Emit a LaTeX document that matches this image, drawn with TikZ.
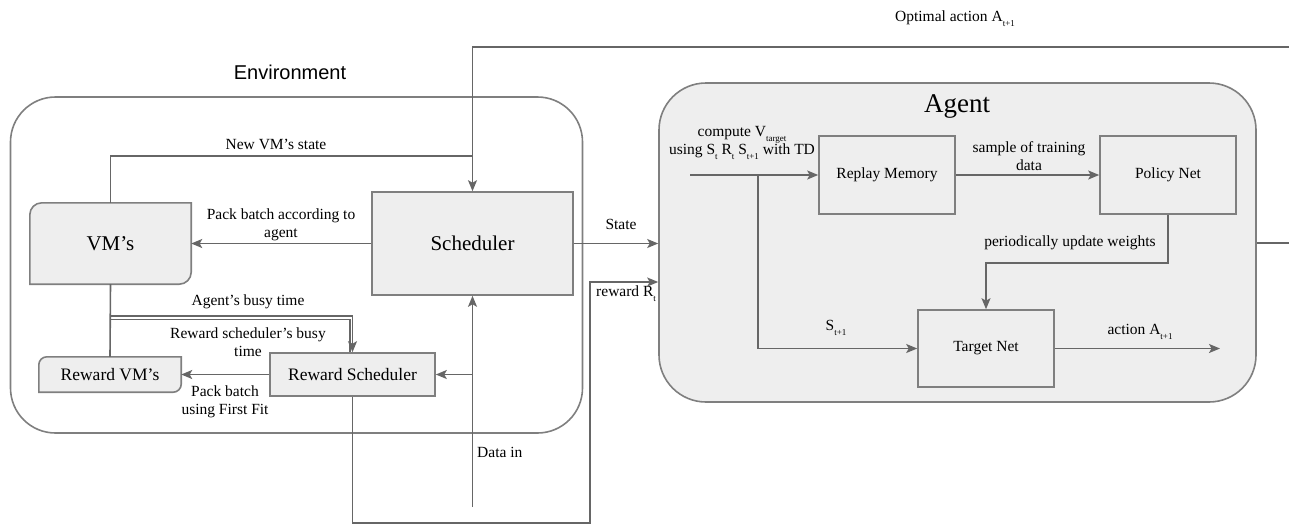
\documentclass[tikz,border=0pt]{standalone}
\usepackage{fontspec}
\setmainfont{Liberation Serif}
\newfontfamily\headsans{Liberation Sans}
\usetikzlibrary{arrows.meta,backgrounds}
\definecolor{wire}{HTML}{666666}
\definecolor{edgegray}{HTML}{7F7F7F}
\definecolor{panel}{HTML}{EEEEEE}
% lowered small index used in the labels (A_{t+1}, V_{target}, ...)
\newcommand{\lowsub}[1]{\raisebox{-5pt}{\fontsize{9}{9}\selectfont #1}}

\begin{document}
\begin{tikzpicture}[x=1pt,y=-1pt,
  wire/.style={draw=wire, line width=1.6pt},
  arr/.style={wire, -{Stealth[length=11pt,width=9pt,inset=2.5pt]}},
  block/.style={draw=edgegray, fill=panel, line width=1.6pt, inner sep=0pt, align=center},
  cardtext/.style={inner sep=0pt, align=center},
  cardline/.style={draw=edgegray, fill=panel, line width=1.6pt},
  lbl/.style={inner sep=0pt, align=center, font=\fontsize{15.5}{18.5}\selectfont},
  container/.style={draw=edgegray, line width=1.6pt, rounded corners=#1, inner sep=0pt},
]
\useasboundingbox (0,0) rectangle (1289,523);

% ---------- containers ----------
\node[container=45pt, minimum width=572pt, minimum height=336pt] (env) at (296.5,265) {};
\node[font=\headsans\fontsize{20}{24}\selectfont] (envtitle) at (290,72) {Environment};
\node[container=47pt, fill=panel, minimum width=597pt, minimum height=319pt] (agent) at (957.5,242.5) {};
\node[font=\fontsize{27}{30}\selectfont] (agenttitle) at (957,106) {Agent};

% ---------- environment blocks ----------
\node[block, minimum width=201pt, minimum height=103pt, font=\fontsize{21}{24}\selectfont] (sched) at (472.5,243.5) {Scheduler};
\node[cardtext, minimum width=161pt, minimum height=81pt, font=\fontsize{21}{24}\selectfont] (vm) at (110.5,243.5) {VM’s};
\node[cardtext, minimum width=142pt, minimum height=35pt, font=\fontsize{17.5}{20}\selectfont] (rvm) at (110,374.5) {Reward VM’s};
\node[block, minimum width=165pt, minimum height=43pt, font=\fontsize{17.5}{20}\selectfont] (rs) at (352.5,374.5) {Reward Scheduler};

% card outlines: rounded top-left and bottom-right corners only
\begin{scope}[on background layer]
  \draw[cardline] (vm.south west) -- ([yshift=-12pt]vm.north west)
    arc[start angle=180,end angle=90,radius=12pt] -- (vm.north east)
    -- ([yshift=12pt]vm.south east) arc[start angle=0,end angle=-90,radius=12pt] -- cycle;
  \draw[cardline] (rvm.south west) -- ([yshift=-8pt]rvm.north west)
    arc[start angle=180,end angle=90,radius=8pt] -- (rvm.north east)
    -- ([yshift=8pt]rvm.south east) arc[start angle=0,end angle=-90,radius=8pt] -- cycle;
\end{scope}

% ---------- agent blocks ----------
\node[block, minimum width=136pt, minimum height=78pt, font=\fontsize{15.5}{18}\selectfont] (rm) at (887,175) {Replay Memory};
\node[block, minimum width=136pt, minimum height=78pt, font=\fontsize{15.5}{18}\selectfont] (pn) at (1168,175) {Policy Net};
\node[block, minimum width=136pt, minimum height=77pt, font=\fontsize{15.5}{18}\selectfont] (tgt) at (986,348.5) {Target Net};

% ---------- free ends and bends ----------
\coordinate (loopR) at (1320,243);
\coordinate (loopT) at (1320,47);
\coordinate (stateJoin) at (472.5,156);
\coordinate (dataIn) at (472.5,507);
\coordinate (rewBottom) at (590,523);
\coordinate (rewUp) at (590,282);
\coordinate (tdIn) at (690,175);
\coordinate (tdSplit) at (758,175);
\coordinate (actOut) at (1220,348.5);

% ---------- connectors: environment ----------
\draw[arr] (agent.east |- loopR) -- (loopR) -- (loopT) -- (sched.north |- loopT) -- (sched.north);
\draw[wire] (vm.north) |- (stateJoin);
\draw[arr] (sched.west) -- (vm.east);
\draw[wire] (vm.south) -- (rvm.north);
\draw[arr] (vm.south |- 0,316) -| (rs.north);
\draw[wire] (vm.south |- 0,319.5) -| ([xshift=-2.5pt]rs.north);
\draw[arr] (rs.west) -- (rvm.east);
\draw[arr] (dataIn) -- (sched.south);
\draw[arr] (dataIn |- rs.east) -- (rs.east);
\draw[arr] (rs.south) |- (rewBottom) -- (rewUp) -- (agent.west |- rewUp);
\draw[arr] (sched.east) -- (agent.west |- sched.east);

% ---------- connectors: agent ----------
\draw[arr] (tdIn) -- (rm.west);
\draw[arr] (tdSplit) |- (tgt.west);
\draw[arr] (rm.east) -- (pn.west);
\draw[arr] (pn.south) -- ++(0,48) -| (tgt.north);
\draw[arr] (tgt.east) -- (actOut);

% ---------- labels ----------
\node[lbl] (lOpt) at (955,19) {Optimal action A\lowsub{t+1}};
\node[lbl] (lNew) at (276,144) {New VM’s state};
\node[lbl] (lPack) at (281,225) {Pack batch according to\\agent};
\node[lbl] (lBusyA) at (248,302) {Agent’s busy time};
\node[lbl] (lBusyR) at (248,342) {Reward scheduler’s busy\\time};
\node[lbl] (lFirst) at (225,402) {Pack batch\\using First Fit};
\node[lbl, anchor=west] (lData) at (477,452) {Data in};
\node[lbl] (lState) at (621,224) {State};
\node[lbl, anchor=west] (lRew) at (596,294) {reward R\lowsub{t}};
\node[lbl] (lTD) at (742,143) {compute V\lowsub{target}\\using S\lowsub{t} R\lowsub{t} S\lowsub{t+1} with TD};
\node[lbl] (lSample) at (1029,156) {sample of training\\data};
\node[lbl] (lPeriod) at (1070,243) {periodically update weights};
\node[lbl] (lSnext) at (836,328) {S\lowsub{t+1}};
\node[lbl] (lAct) at (1140,332) {action A\lowsub{t+1}};
\end{tikzpicture}
\end{document}
